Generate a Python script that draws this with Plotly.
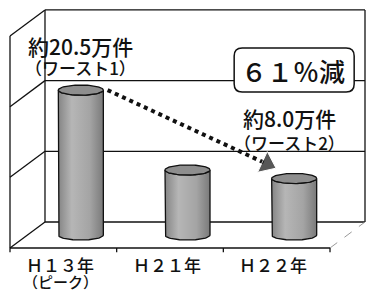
import numpy as np
import plotly.graph_objects as go

# ---------------- data ----------------
categories = ["Ｈ１３年", "Ｈ２１年", "Ｈ２２年"]
sub_labels = ["（ピーク）", "", ""]
values = [20.5, 9.2, 8.0]            # 万件
value_labels = ["約20.5万件", "", "約8.0万件"]
rank_labels = ["（ワースト1）", "", "（ワースト2）"]
gridlines = [10, 20]
y_max = 30
change_label = "６１％減"

# ---------------- style / projection ----------------
DX = 0.328       # oblique depth offset (category units)
DY = 3.68        # oblique depth offset (value units)
BAR_DEPTH = 0.5
W = 0.211        # cylinder half width
H = 0.72         # ellipse half height
FONT = "Noto Sans CJK JP"
INK = "#111111"
LINE = dict(color=INK, width=1.3)

n = len(categories)
x0f, x1f = -0.5, n - 0.5
fig = go.Figure()

shapes = []
def seg(xa, ya, xb, yb, line=None):
    shapes.append(dict(type="line", xref="x", yref="y", x0=xa, y0=ya, x1=xb, y1=yb,
                       line=line or LINE, layer="below"))

# back wall
seg(x0f + DX, DY, x1f + DX, DY)
seg(x0f + DX, DY + y_max, x1f + DX, DY + y_max)
seg(x0f + DX, DY, x0f + DX, DY + y_max)
seg(x1f + DX, DY, x1f + DX, DY + y_max)
for g in gridlines:
    seg(x0f + DX, DY + g, x1f + DX, DY + g)
# left wall
seg(x0f, 0, x0f, y_max)
for g in [0] + gridlines + [y_max]:
    seg(x0f, g, x0f + DX, DY + g)
# floor
seg(x0f, 0, x1f, 0)
seg(x1f, 0, x1f + DX, DY, line=dict(color="#999999", width=1, dash="dash"))
for k in range(n + 1):
    seg(x0f + k, 0, x0f + k, -0.6)

# ---------------- cylinders ----------------
tops = []
centers = []
for i, v in enumerate(values):
    xc = i + BAR_DEPTH * DX
    yb = BAR_DEPTH * DY
    yt = yb + v
    tops.append(yt)
    centers.append(xc)
    t = np.linspace(np.pi, 2 * np.pi, 40)
    bx = list(xc + W * np.cos(t))
    by = list(yb + H * np.sin(t))
    t2 = np.linspace(2 * np.pi, np.pi, 40)
    tx = list(xc + W * np.cos(t2))
    ty = list(yt + H * np.sin(t2))
    xs = [xc - W] + bx + [xc + W] + tx
    ys = [yt] + by + [yt] + ty
    fig.add_trace(go.Scatter(
        x=xs, y=ys, mode="lines", fill="toself",
        fillgradient=dict(type="horizontal",
                          colorscale=[[0, "#858585"], [0.3, "#b6b6b6"],
                                      [0.7, "#a4a4a4"], [1, "#7a7a7a"]]),
        line=dict(color=INK, width=1.3),
        hoverinfo="skip", showlegend=False))
    ta = np.linspace(0, 2 * np.pi, 80)
    fig.add_trace(go.Scatter(
        x=xc + W * np.cos(ta), y=yt + H * np.sin(ta), mode="lines",
        fill="toself", fillcolor="#8e8e8e",
        line=dict(color=INK, width=1.3),
        hoverinfo="skip", showlegend=False))

# ---------------- dotted arrow ----------------
fig.add_trace(go.Scatter(
    x=[centers[0] + W + 0.04, centers[2] - 0.255],
    y=[tops[0], tops[2] + 2.05],
    mode="lines+markers",
    line=dict(color=INK, width=4, dash="dot"),
    marker=dict(size=[0, 20], symbol="triangle-up", angleref="previous",
                color=INK),
    hoverinfo="skip", showlegend=False))

# ---------------- texts ----------------
def font(size):
    return dict(size=size, family=FONT, color=INK, weight=500)

ann = []
label_y = [28.6, None, 18.4]
rank_y = [25.5, None, 14.9]
label_dx = [0.0, 0.0, -0.04]
for i in range(n):
    if value_labels[i]:
        ann.append(dict(x=centers[i] + label_dx[i], y=label_y[i],
                        text=value_labels[i], font=font(21)))
        ann.append(dict(x=centers[i] + label_dx[i], y=rank_y[i],
                        text=rank_labels[i], font=font(17)))
    ann.append(dict(x=i - 0.03, y=-2.4, text=categories[i], font=font(17)))
    if sub_labels[i]:
        ann.append(dict(x=i - 0.03, y=-4.75, text=sub_labels[i], font=font(15)))

# change box
bx0, bx1 = centers[2] - 0.5625, centers[2] + 0.5625
by0, by1 = 25.19 - 3.11, 25.19 + 3.11
rx, ry = 0.075, 1.13
path = (f"M {bx0+rx},{by0} L {bx1-rx},{by0} Q {bx1},{by0} {bx1},{by0+ry} "
        f"L {bx1},{by1-ry} Q {bx1},{by1} {bx1-rx},{by1} L {bx0+rx},{by1} "
        f"Q {bx0},{by1} {bx0},{by1-ry} L {bx0},{by0+ry} Q {bx0},{by0} {bx0+rx},{by0} Z")
shapes.append(dict(type="path", xref="x", yref="y", path=path,
                   fillcolor="white", line=dict(color=INK, width=1.5),
                   layer="below"))
ann.append(dict(x=centers[2] - 0.01, y=25.1, text=change_label, font=font(26)))

for a in ann:
    a.update(xref="x", yref="y", showarrow=False)

fig.update_layout(
    width=373, height=295, autosize=False,
    margin=dict(l=0, r=0, t=0, b=0),
    paper_bgcolor="white", plot_bgcolor="white",
    shapes=shapes, annotations=ann, showlegend=False,
    xaxis=dict(range=[-0.59375, 2.903], visible=False, fixedrange=True),
    yaxis=dict(range=[-6.651, 35.09], visible=False, fixedrange=True),
)
fig.write_html("out.html", config={"displayModeBar": False},
               post_script="document.body.style.margin='0';document.body.style.overflow='hidden';")
